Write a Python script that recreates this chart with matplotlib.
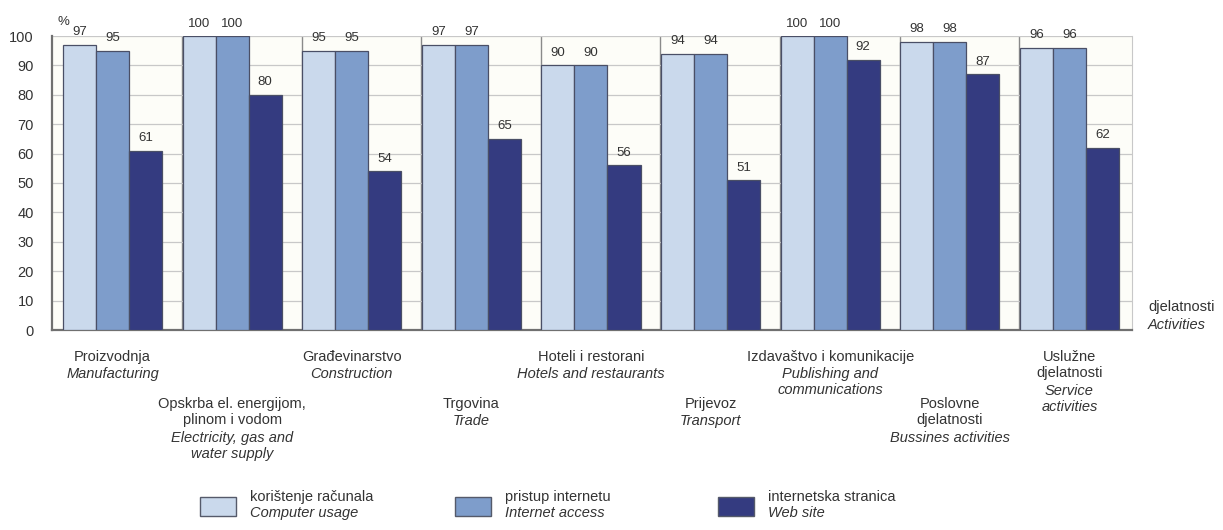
import numpy as np
import matplotlib.pyplot as plt
from matplotlib.patches import Rectangle
from matplotlib.transforms import blended_transform_factory

plt.rcParams['font.family'] = ['Liberation Sans Narrow', 'Liberation Sans', 'DejaVu Sans']
plt.rcParams['font.size'] = 10.5

kategorije_hr = ['Proizvodnja', 'Opskrba el. energijom,\nplinom i vodom', 'Građevinarstvo',
                 'Trgovina', 'Hoteli i restorani', 'Prijevoz', 'Izdavaštvo i komunikacije',
                 'Poslovne\ndjelatnosti', 'Uslužne\ndjelatnosti']
kategorije_en = ['Manufacturing', 'Electricity, gas and\nwater supply', 'Construction',
                 'Trade', 'Hotels and restaurants', 'Transport', 'Publishing and\ncommunications',
                 'Bussines activities', 'Service\nactivities']
racunala = [97, 100, 95, 97, 90, 94, 100, 98, 96]
internet = [95, 100, 95, 97, 90, 94, 100, 98, 96]
stranica = [61, 80, 54, 65, 56, 51, 92, 87, 62]

serije = ['korištenje računala', 'pristup internetu', 'internetska stranica']
serije_en = ['Computer usage', 'Internet access', 'Web site']
boje = ['#cad9ec', '#7e9dcb', '#343b80']

W, H = 1223, 530
fig = plt.figure(figsize=(W / 100, H / 100), dpi=100)
ax = fig.add_axes([52 / W, 1 - 330 / H, (1132 - 52) / W, (330 - 36) / H])
ax.set_facecolor('#fdfdf8')

x = np.arange(len(racunala))
w = 0.276
for k, vals in enumerate([racunala, internet, stranica]):
    pos = x + (k - 1) * w
    ax.bar(pos, vals, width=w, color=boje[k], edgecolor='#4a4f66', linewidth=0.9, zorder=3)
    if k < 2:
        for p, v in zip(pos, vals):
            ax.text(p, v + 2.2, str(v), ha='center', va='bottom', fontsize=9.5,
                    color='#333333', clip_on=False, zorder=4)
    else:
        for p, v in zip(pos, vals):
            ax.text(p, v + 2.2, str(v), ha='center', va='bottom', fontsize=9.5,
                    color='#333333', zorder=4)

ax.set_xlim(-0.506, 8.523)
ax.set_ylim(0, 100)
ax.set_yticks(range(0, 101, 10))
ax.tick_params(axis='y', length=0, pad=13, labelsize=10.5, colors='#333333')
ax.set_xticks([])
ax.grid(axis='y', color='#c8c8c8', linewidth=0.9, zorder=0)
for i in x[1:]:
    ax.axvline(i - 1.5 * w - 0.006, color='#8a8a8a', linewidth=1.0, zorder=1)

ax.spines['top'].set_visible(False)
ax.spines['right'].set_color('#c8c8c8')
ax.spines['left'].set_color('#707070')
ax.spines['left'].set_linewidth(1.6)
ax.spines['bottom'].set_color('#707070')
ax.spines['bottom'].set_linewidth(1.6)

fig.text(57 / W, 1 - 22 / H, '%', fontsize=9.5, color='#333333', va='center')

# kategorije ispod osi, naizmjence u dva reda
tr = blended_transform_factory(ax.transData, fig.transFigure)
for i in x:
    top = 350 if i % 2 == 0 else 397
    ax.text(i, 1 - top / H, kategorije_hr[i], ha='center', va='top', transform=tr,
            color='#333333', linespacing=1.2)
    n = kategorije_hr[i].count('\n') + 1
    ax.text(i, 1 - (top + 16.8 * n) / H, kategorije_en[i], ha='center', va='top',
            transform=tr, color='#333333', style='italic', linespacing=1.2)

fig.text(1148 / W, 1 - 307 / H, 'djelatnosti', va='center', color='#333333')
fig.text(1148 / W, 1 - 325 / H, 'Activities', va='center', color='#333333', style='italic')

# legenda
for xb, s, se, b in zip([200, 455, 718], serije, serije_en, boje):
    fig.patches.append(Rectangle((xb / W, 1 - 516 / H), 36 / W, 19 / H, transform=fig.transFigure,
                                 facecolor=b, edgecolor='#555a6a', linewidth=1.0))
    fig.text((xb + 50) / W, 1 - 497 / H, s, va='center', color='#333333')
    fig.text((xb + 50) / W, 1 - 513 / H, se, va='center', color='#333333', style='italic')

fig.savefig('out.png', dpi=100)
